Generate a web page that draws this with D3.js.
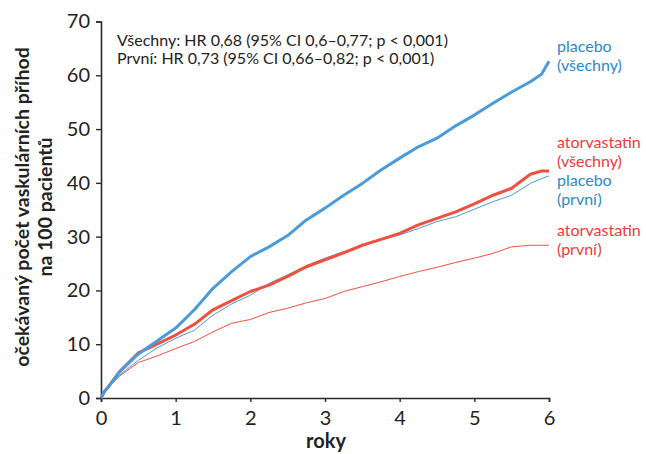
<!DOCTYPE html>
<html>
<head>
<meta charset="utf-8">
<script src="https://cdn.jsdelivr.net/npm/d3@7"></script>
<style>
  body { margin: 0; background: #fff; }
  text { font-family: Lato, "Open Sans", sans-serif; }
</style>
</head>
<body>
<script>
// chart size
var width = 646,
    height = 454;

// x positions (roky) shared by all series
var years = [0, 0.05, 0.1, 0.25, 0.5, 0.75, 1, 1.25, 1.5, 1.75, 2, 2.25, 2.5, 2.75,
             3, 3.25, 3.5, 3.75, 4, 4.25, 4.5, 4.75, 5, 5.25, 5.5, 5.75, 5.9, 6];

// expected vascular events per 100 patients
var placeboAll   = [0, 1.3, 2.1, 4.9, 8.2, 10.6, 13.0, 16.4, 20.4, 23.5, 26.3, 28.1, 30.2, 33.1,
                    35.3, 37.7, 39.9, 42.4, 44.6, 46.7, 48.3, 50.6, 52.6, 54.8, 56.9, 58.8, 60.2, 62.6];
var atorvaAll    = [0, 1.3, 2.1, 4.9, 8.4, 10.0, 11.7, 13.7, 16.4, 18.1, 19.8, 21.0, 22.6, 24.4,
                    25.7, 27.0, 28.4, 29.5, 30.6, 32.2, 33.4, 34.6, 36.1, 37.7, 39.0, 41.6, 42.2, 42.2];
var placeboFirst = [0, 1.2, 2.0, 4.3, 7.0, 9.3, 11.1, 12.6, 15.4, 17.5, 19.1, 21.3, 22.9, 24.6,
                    26.0, 27.2, 28.4, 29.4, 30.3, 31.5, 32.8, 33.7, 35.1, 36.5, 37.7, 39.9, 40.8, 41.3];
var atorvaFirst  = [0, 1.2, 2.0, 4.1, 6.6, 7.8, 9.2, 10.5, 12.3, 13.9, 14.6, 15.9, 16.7, 17.7,
                    18.5, 19.8, 20.7, 21.6, 22.6, 23.5, 24.3, 25.2, 26.0, 26.9, 28.1, 28.4, 28.4, 28.4];

// tick labels
var xTicks = [0, 1, 2, 3, 4, 5, 6];
var yTicks = [0, 10, 20, 30, 40, 50, 60, 70];

// colours
var blue = '#4b9bd9',
    red = '#f0503f',
    blueText = '#2f87cb',
    redText = '#ee3b3b';

var svg = d3.select('body')
  .append('svg')
  .attr('width', width)
  .attr('height', height);

// scales
var x = d3.scaleLinear().domain([0, 6]).range([101, 549]);
var y = d3.scaleLinear().domain([0, 70]).range([398, 21.5]);

// x axis
var xAxis = svg.append('g')
  .attr('transform', 'translate(0,398)')
  .call(d3.axisBottom(x).tickValues(xTicks).tickSize(4).tickPadding(7).tickFormat(d3.format('d')));

// y axis
var yAxis = svg.append('g')
  .attr('transform', 'translate(101,0)')
  .call(d3.axisLeft(y).tickValues(yTicks).tickSize(5).tickPadding(6).tickFormat(d3.format('d')));

[xAxis, yAxis].forEach(function(ax) {
  ax.select('.domain').attr('stroke', '#2b2b2b').attr('stroke-width', 1.6);
  ax.selectAll('.tick line').attr('stroke', '#2b2b2b').attr('stroke-width', 1.4);
  ax.selectAll('.tick text')
    .attr('fill', '#222')
    .style('font-family', 'Lato, sans-serif')
    .style('font-size', '20px');
});
xAxis.selectAll('.tick text').attr('dy', '0.8em');

// line generator
var line = d3.line()
  .x(function(d) { return x(d[0]); })
  .y(function(d) { return y(d[1]); });

function pairs(vals) {
  return years.map(function(t, i) { return [t, vals[i]]; });
}

var series = [
  { vals: atorvaFirst, color: red, w: 1 },
  { vals: placeboFirst, color: blue, w: 1 },
  { vals: atorvaAll, color: red, w: 3 },
  { vals: placeboAll, color: blue, w: 3 }
];

svg.append('g')
  .selectAll('path')
  .data(series)
  .enter()
  .append('path')
  .attr('d', function(d) { return line(pairs(d.vals)); })
  .attr('fill', 'none')
  .attr('stroke', function(d) { return d.color; })
  .attr('stroke-width', function(d) { return d.w; })
  .attr('stroke-linejoin', 'round');

// HR annotations
var notes = ['Všechny: HR 0,68 (95% CI 0,6–0,77; p < 0,001)',
             'První: HR 0,73 (95% CI 0,66–0,82; p < 0,001)'];
svg.selectAll('.note')
  .data(notes)
  .enter()
  .append('text')
  .attr('class', 'note')
  .attr('x', 117)
  .attr('y', function(d, i) { return 46 + i * 18; })
  .attr('fill', '#222')
  .style('font-size', '16px')
  .text(function(d) { return d; });

// right side labels
var endLabels = [
  { t: 'placebo', y: 52, c: blueText },
  { t: '(všechny)', y: 71, c: blueText },
  { t: 'atorvastatin', y: 148, c: redText },
  { t: '(všechny)', y: 167, c: redText },
  { t: 'placebo', y: 186, c: blueText },
  { t: '(první)', y: 205, c: blueText },
  { t: 'atorvastatin', y: 236, c: redText },
  { t: '(první)', y: 255, c: redText }
];
svg.selectAll('.endlab')
  .data(endLabels)
  .enter()
  .append('text')
  .attr('class', 'endlab')
  .attr('x', 557)
  .attr('y', function(d) { return d.y; })
  .attr('fill', function(d) { return d.c; })
  .style('font-size', '16px')
  .text(function(d) { return d.t; });

// axis titles
svg.append('text')
  .attr('x', 326)
  .attr('y', 448)
  .attr('text-anchor', 'middle')
  .attr('fill', '#222')
  .style('font-size', '20px')
  .style('font-weight', 'bold')
  .text('roky');

var yTitle = svg.append('text')
  .attr('transform', 'translate(29,207) rotate(-90)')
  .attr('text-anchor', 'middle')
  .attr('fill', '#222')
  .style('font-size', '19.5px')
  .style('font-weight', 'bold');
yTitle.append('tspan').attr('x', 0).attr('y', 0).text('očekávaný počet vaskulárních příhod');
yTitle.append('tspan').attr('x', 0).attr('y', 23).text('na 100 pacientů');
</script>
</body>
</html>
